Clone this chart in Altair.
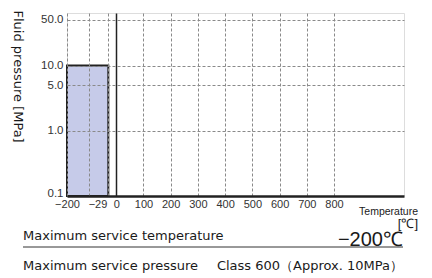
import altair as alt
import pandas as pd

# ---- data ----
bar_t0 = [-200]
bar_t1 = [-29]
bar_p0 = [0.1]
bar_p1 = [10.0]
x_ticks = [-200, -100, -29, 0, 100, 200, 300, 400, 500, 600, 700, 800]
y_ticks = [0.1, 1.0, 5.0, 10.0, 50.0]
x_domain = [-200, -100, 1057]
y_domain = [0.1, 64]
y_title = "Fluid pressure [MPa]"
x_title = ["Temperature", "[℃]"]
row_labels = ["Maximum service temperature", "Maximum service pressure"]
row_values = ["−200℃", "Class 600（Approx. 10MPa）"]

W, H = 337, 183

bar_df = pd.DataFrame({"t0": bar_t0, "t1": bar_t1, "p0": bar_p0, "p1": bar_p1})
one = pd.DataFrame({"k": [0]})

xscale = alt.Scale(domain=x_domain, range=[0, 22, W])
yscale = alt.Scale(type="log", domain=y_domain, nice=False)

GRID = "#8a8a8a"
TXT = "#1a1a1a"
NARROW = "Liberation Sans, Arial, Helvetica, sans-serif"
IS0 = "datum.value == 0"

x_axis = alt.Axis(
    values=x_ticks, title=None, ticks=False, labelPadding=2,
    labelFont=NARROW, labelFontSize=11, labelColor="#333",
    labelOverlap=False, labelFlush=False, labelBound=False,
    labelExpr="datum.value == -100 ? '' : (datum.value < 0 ? '−' + abs(datum.value) : datum.label)",
    labelAlign={"condition": {"test": "datum.value == -29", "value": "right"}, "value": "center"},
    labelOffset={"condition": {"test": "datum.value == -29", "value": -1.5}, "value": 0},
    grid=True,
    gridDash={"condition": {"test": IS0, "value": []}, "value": [3, 2]},
    gridColor={"condition": {"test": IS0, "value": "#222"}, "value": GRID},
    gridWidth={"condition": {"test": IS0, "value": 1.5}, "value": 1},
    domainColor="#222", domainWidth=2.5, zindex=1,
)

y_axis = alt.Axis(
    values=y_ticks, format=".1f", ticks=False, labelPadding=4, domain=False,
    labelFont=NARROW, labelFontSize=11.5, labelColor="#333",
    labelOverlap=False,
    labelBaseline={"condition": {"test": "datum.value < 0.5", "value": "alphabetic"}, "value": "middle"},
    grid=True, gridDash=[3, 2], gridColor=GRID, gridWidth=1,
    gridOpacity={"condition": {"test": "datum.value < 0.5", "value": 0}, "value": 1},
    title=y_title, titleAngle=90, titleX=-50, titleY=-3, titleAlign="left",
    titleBaseline="middle", titleFont="DejaVu Sans", titleFontSize=13,
    titleFontWeight="normal", titleColor=TXT, zindex=1,
)

bar = alt.Chart(bar_df).mark_rect(fill="#c6cbe9", stroke="#222", strokeWidth=2).encode(
    x=alt.X("t0:Q", scale=xscale, axis=x_axis),
    x2="t1",
    y=alt.Y("p0:Q", scale=yscale, axis=y_axis),
    y2="p1",
)


def label(text, x, y, size, font, align="left"):
    return alt.Chart(one).mark_text(
        text=text, align=align, baseline="alphabetic", font=font,
        fontSize=size, color=TXT
    ).encode(x=alt.value(x), y=alt.value(y))


t1 = label(x_title[0], 351, 201.5, 10.5, NARROW, "right")
t2 = label(x_title[1], 351, 215, 13, NARROW, "right")
r1 = label(row_labels[0], -44, 226.5, 13, "DejaVu Sans")
r2 = label(row_values[0], 336, 233, 20, NARROW, "right")
r3 = label(row_labels[1], -44, 257, 13, "DejaVu Sans")
r4 = label(row_values[1], 336, 257, 13, "DejaVu Sans", "right")

underline = alt.Chart(one).mark_rule(color="#333", strokeWidth=1).encode(
    x=alt.value(-44), x2=alt.value(336), y=alt.value(234)
)

chart = alt.layer(bar, t1, t2, r1, r2, underline, r3, r4).properties(
    width=W, height=H,
    autosize=alt.AutoSizeParams(type="none"),
    padding={"left": 59, "top": 5, "right": 18, "bottom": 78},
).configure_view(stroke=None).configure_axis(
    labelOverlap=False
).configure(background="white")

chart.save("out.html", embed_options={"renderer": "svg", "actions": False})
